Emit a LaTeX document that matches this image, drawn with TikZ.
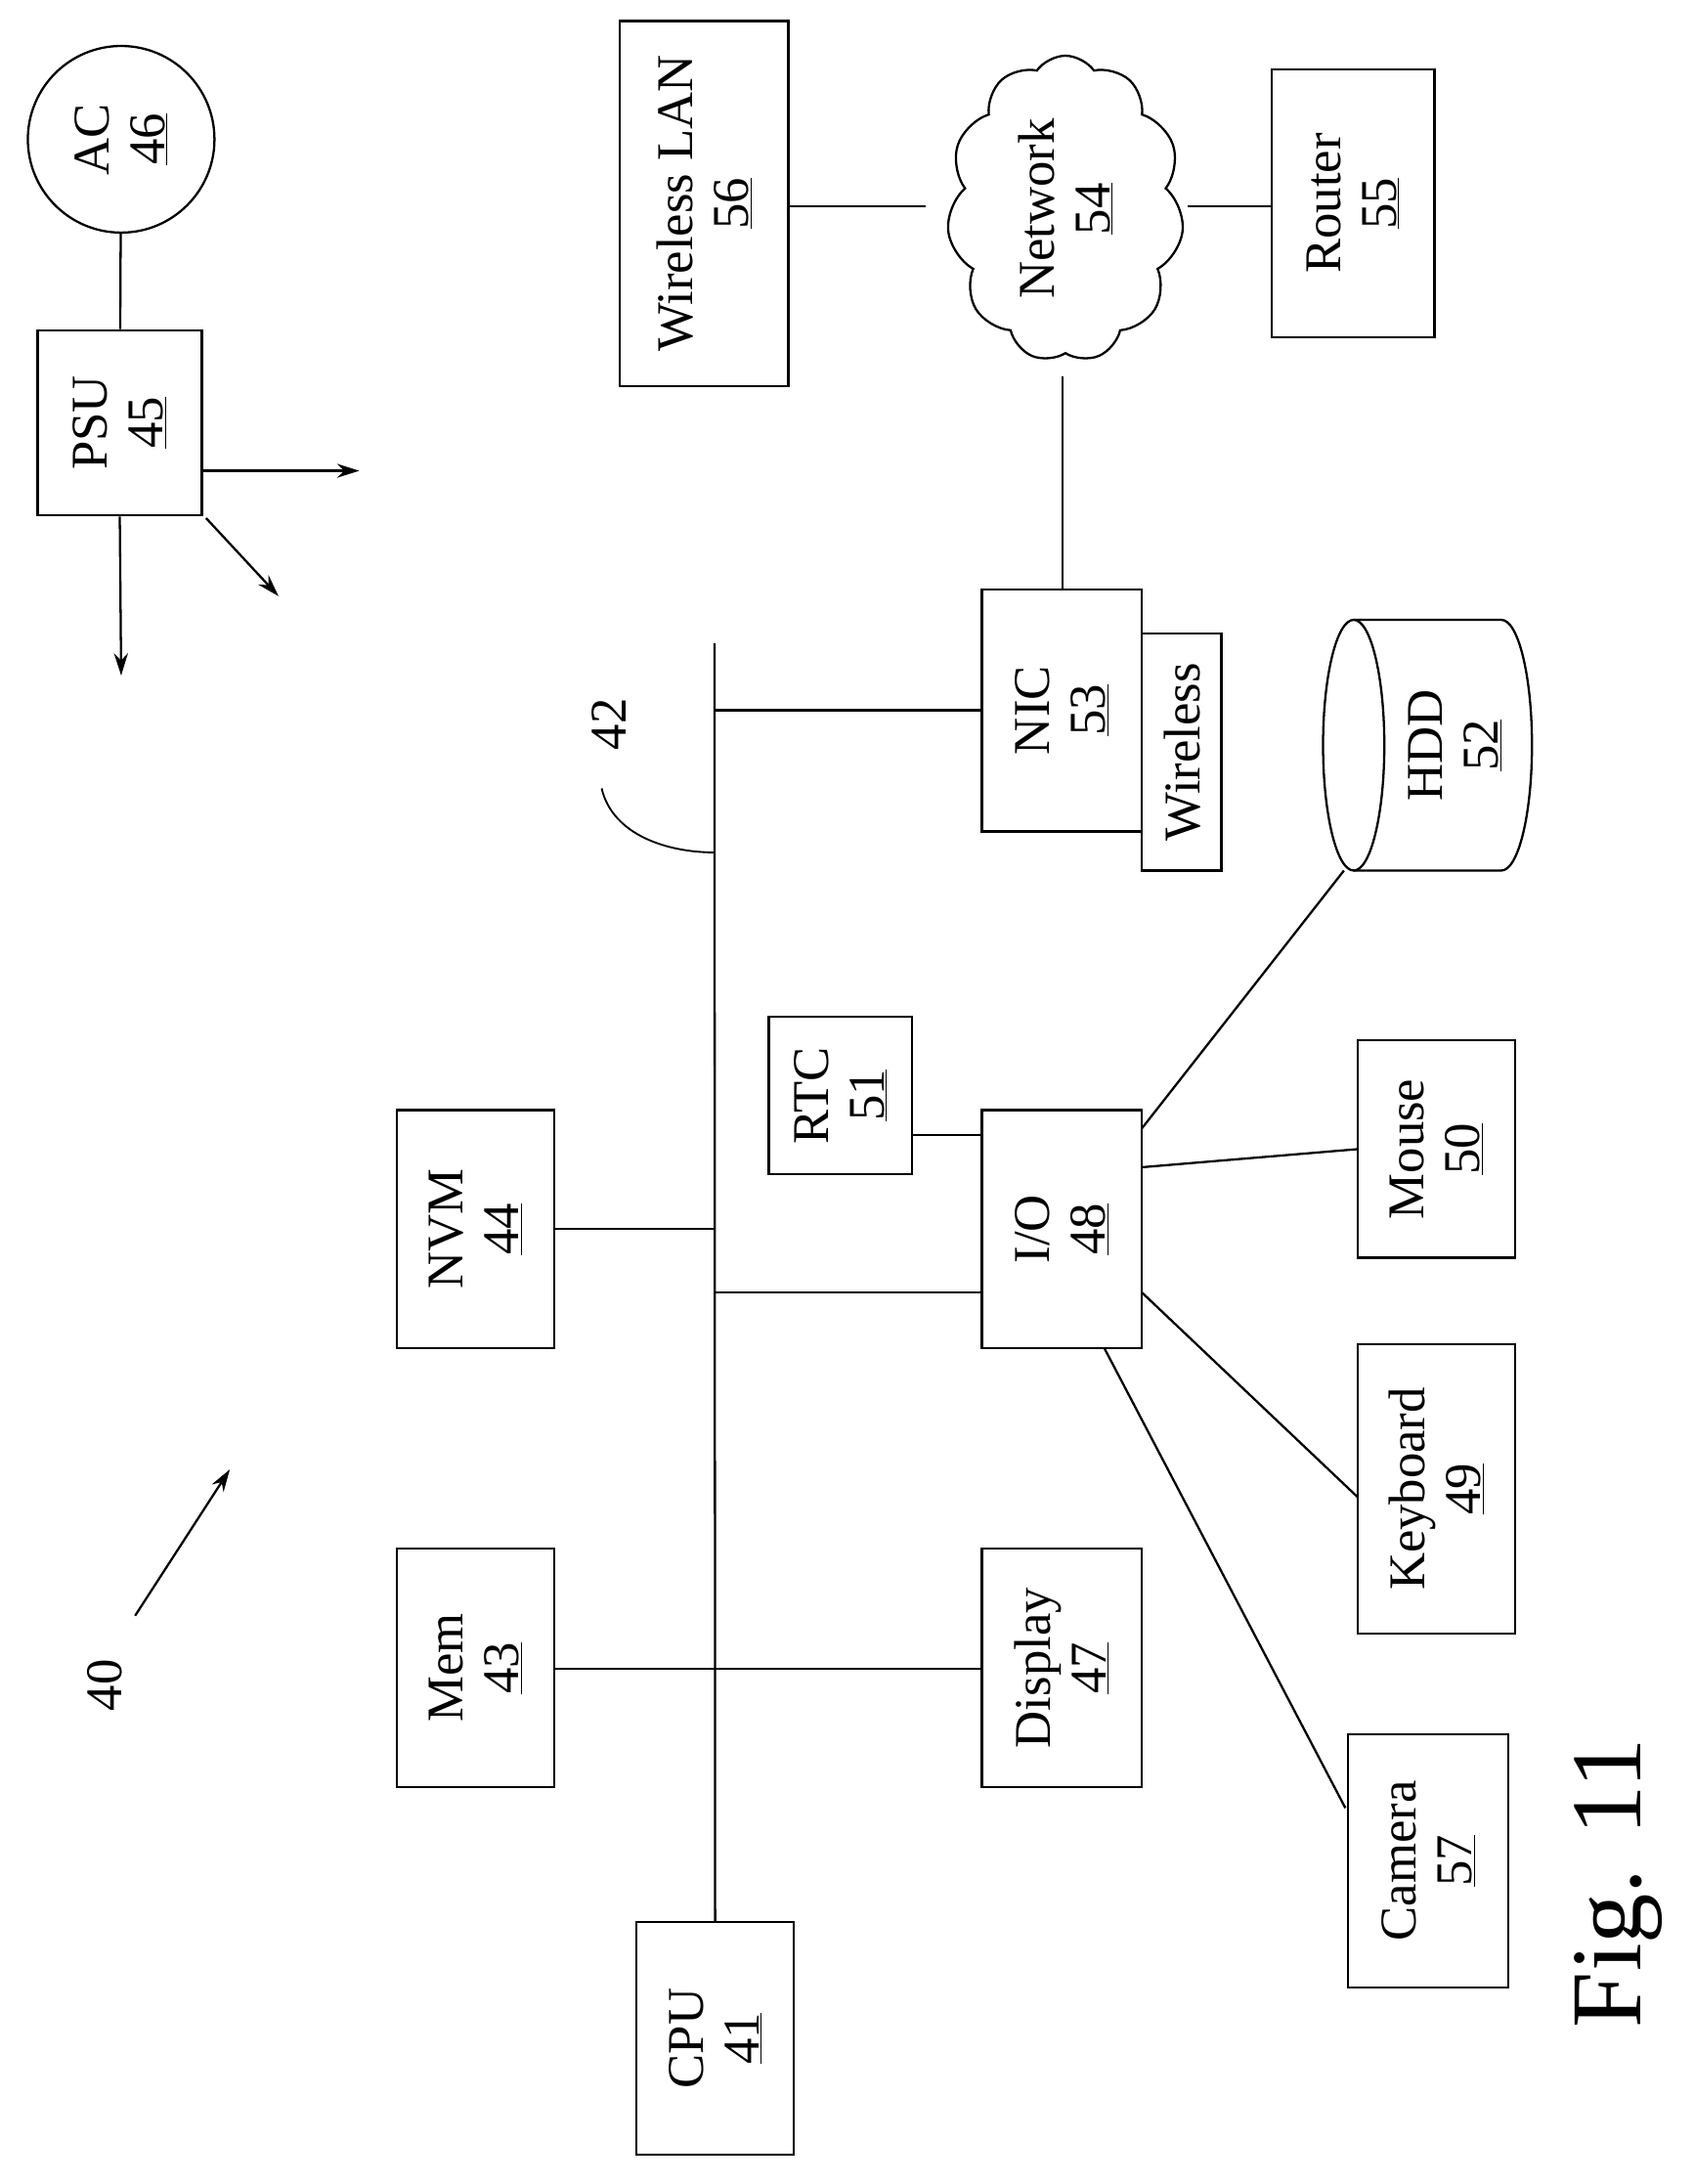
\documentclass[tikz,border=0pt]{standalone}
\usepackage{fontspec}
\setmainfont{Liberation Serif}
\usetikzlibrary{shapes.symbols,arrows.meta}
\begin{document}
\begin{tikzpicture}[x=1pt,y=-1pt,line width=1.6pt,
 box/.style={draw,fill=white,inner sep=0pt},
 lbl/.style={rotate=90,align=center,font=\fontsize{37}{40}\selectfont},
 arr/.style={-{Stealth[length=16pt,width=10pt]}}]
\useasboundingbox (0,0) rectangle (1216,1568);
\def\bx#1#2#3#4#5#6{\node[box,minimum width=#4-#2,minimum height=#5-#3] (#1) at ({(#2+#4)/2},{(#3+#5)/2}) {}; \node[lbl] at (#1) {#6};}
% AC / PSU
\node[draw,circle,minimum size=134pt,inner sep=0pt] (ac) at (87,100) {};
\node[lbl] at (ac) {AC\\\underline{46}};
\bx{psu}{27}{237}{145}{370}{PSU\\\underline{45}}
\draw (ac) -- (psu);
\coordinate (pa) at (258,338); \coordinate (pb) at (200,428); \coordinate (pc) at (87,485);
\draw[arr] (145,338) -- (pa);
\draw[arr] (148,372) -- (pb);
\draw[arr] (psu.south) -- (pc);
% network
\bx{wlan}{445}{15}{566}{277}{Wireless LAN\\\underline{56}}
\node[draw,cloud,cloud puffs=11,cloud puff arc=110,minimum width=170pt,minimum height=220pt,aspect=0.8] (net) at (765,150) {};
\node[lbl] at (net) {Network\\\underline{54}};
\bx{router}{913}{50}{1030}{242}{Router\\\underline{55}}
\draw (wlan.east |- 0,148) -- (665,148);
\draw (853,148) -- (router.west |- 0,148);
% NIC
\bx{wl}{820}{455}{877}{625}{}
\node[lbl] at (849,540) {Wireless};
\bx{nic}{705}{423}{820}{597}{NIC\\\underline{53}}
\draw (763,270) -- (763,423);
% bus
\bx{cpu}{457}{1380}{570}{1547}{CPU\\\underline{41}}
\coordinate (bt) at (513,462);
\draw (bt) -- (cpu.north);
\draw (513,510) -- (nic.west |- 0,510);
\node[lbl] (l42) at (437,520) {42};
\draw[line width=1.3pt] (432,566) .. controls (440,600) and (480,612) .. (513,612);
\bx{nvm}{285}{797}{398}{968}{NVM\\\underline{44}}
\bx{mem}{285}{1112}{398}{1283}{Mem\\\underline{43}}
\bx{disp}{705}{1112}{820}{1283}{Display\\\underline{47}}
\bx{io}{705}{797}{820}{968}{I/O\\\underline{48}}
\bx{rtc}{552}{730}{655}{843}{RTC\\\underline{51}}
\draw (nvm.east |- 0,882) -- (513,882);
\draw (513,928) -- (io.west |- 0,928);
\draw (mem.east |- 0,1198) -- (disp.west |- 0,1198);
\draw (rtc.east |- 0,815) -- (io.west |- 0,815);
% HDD
\draw[fill=white] (972,445) -- (1078,445) arc[start angle=-90,end angle=90,x radius=22,y radius=90] -- (972,625);
\draw[fill=white] (972,535) ellipse[x radius=22,y radius=90];
\coordinate (hdd) at (965,625);
\node[lbl] at (1045,535) {HDD\\\underline{52}};
\bx{mouse}{975}{747}{1088}{903}{Mouse\\\underline{50}}
\bx{kb}{975}{965}{1088}{1173}{Keyboard\\\underline{49}}
\bx{cam}{968}{1245}{1083}{1427}{Camera\\\underline{57}}
\draw (820,810) -- (hdd);
\draw (820,838) -- (975,825);
\draw (820,928) -- (975,1075);
\draw (793,968) -- (966,1298);
% labels
\node[lbl] at (75,1210) {40};
\coordinate (a40) at (165,1055);
\draw[arr] (97,1160) -- (a40);
\node[rotate=90,font=\fontsize{72}{80}\selectfont] at (1162,1352) {Fig. 11};
\end{tikzpicture}
\end{document}
